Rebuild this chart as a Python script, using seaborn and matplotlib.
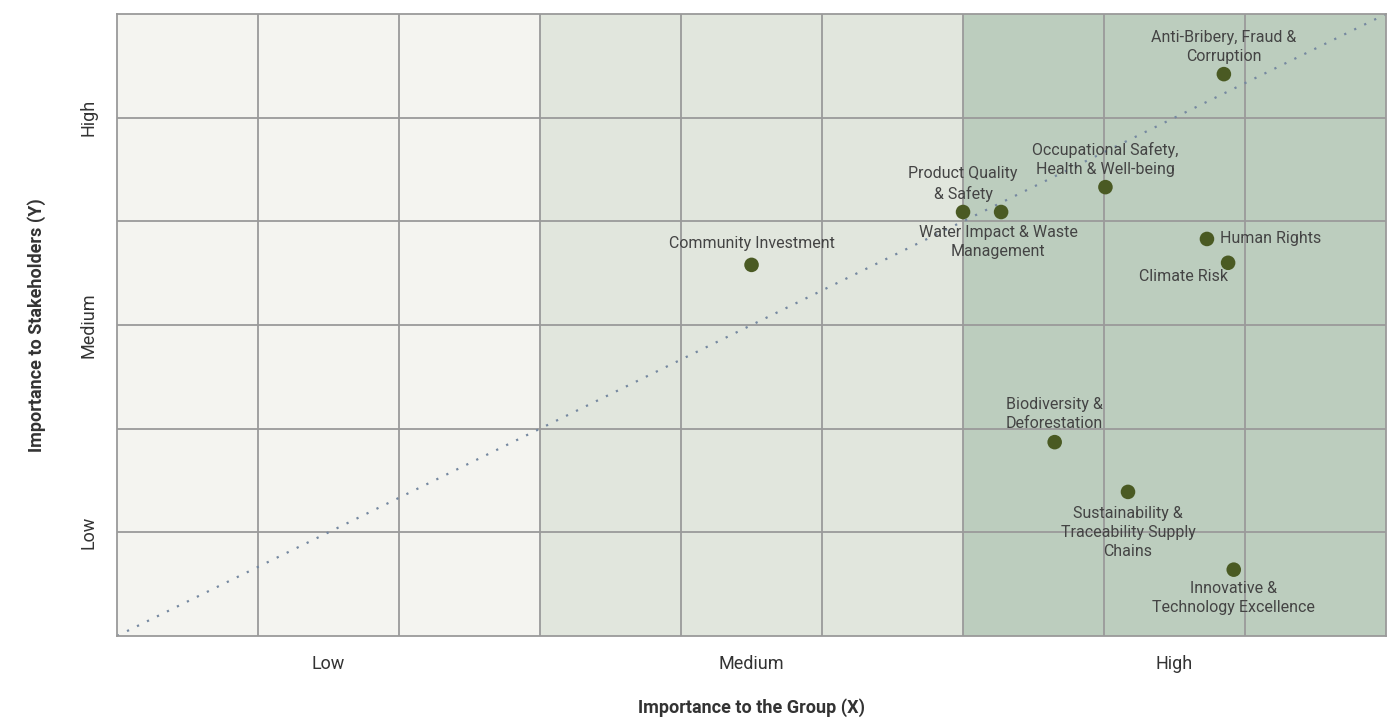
import matplotlib.pyplot as plt
import pandas as pd
import seaborn as sns

topics = ['Anti-Bribery, Fraud &\nCorruption', 'Occupational Safety,\nHealth & Well-being',
          'Product Quality\n& Safety', 'Water Impact & Waste\nManagement', 'Community Investment',
          'Human Rights', 'Climate Risk', 'Biodiversity &\nDeforestation',
          'Sustainability &\nTraceability Supply\nChains', 'Innovative &\nTechnology Excellence']
group_x = [7.85, 7.01, 6.0, 6.27, 4.50, 7.73, 7.88, 6.65, 7.17, 7.92]
stake_y = [5.42, 4.33, 4.09, 4.09, 3.58, 3.83, 3.60, 1.87, 1.39, 0.64]
x_ticklabels = ['Low', 'Medium', 'High']
y_ticklabels = ['Low', 'Medium', 'High']

df = pd.DataFrame({'topic': topics, 'x': group_x, 'y': stake_y})

# label placement: (dx, dy) in pixels, ha, va
label_pos = [(0, 10, 'center', 'bottom'), (0, 10, 'center', 'bottom'), (0, 10, 'center', 'bottom'),
             (-3, -13, 'center', 'top'), (0, 14, 'center', 'bottom'), (13, 0, 'left', 'center'),
             (0, -6, 'right', 'top'), (0, 11, 'center', 'bottom'), (0, -14, 'center', 'top'),
             (0, -11, 'center', 'top')]

sns.set_style('white')
plt.rcParams['font.family'] = ['Roboto', 'DejaVu Sans']

fig = plt.figure(figsize=(13.92, 7.18), dpi=100)
ax = fig.add_axes([0.0841, 0.1142, 0.9116, 0.8663])

for x0, x1, c in [(0, 3, '#f4f4f0'), (3, 6, '#e1e6dd'), (6, 9, '#bccdbe')]:
    ax.axvspan(x0, x1, color=c, zorder=0, lw=0)
for gx in range(1, 9):
    ax.axvline(gx, color='#9a9a9a', lw=1.3, zorder=1)
for gy in range(1, 6):
    ax.axhline(gy, color='#9a9a9a', lw=1.3, zorder=1)

ax.plot([0, 9], [0, 6], ls=(0, (1, 4)), color='#7588a0', lw=1.6, zorder=2)

sns.scatterplot(data=df, x='x', y='y', ax=ax, s=110, color='#4a5a23', edgecolor='none', zorder=3)

for (t, x, y), (dx, dy, ha, va) in zip(zip(topics, group_x, stake_y), label_pos):
    ax.annotate(t, (x, y), xytext=(dx, dy), textcoords='offset pixels', ha=ha, va=va,
                fontsize=11.5, color='#444444', linespacing=1.35, multialignment='center', zorder=4)

ax.set_xlim(0, 9)
ax.set_ylim(0, 6)
ax.set_xticks([1.5, 4.5, 7.5])
ax.set_xticklabels(x_ticklabels, fontsize=13, color='#333333')
ax.set_yticks([1, 3, 5])
ax.set_yticklabels(y_ticklabels, fontsize=13, color='#333333', rotation=90, va='center')
ax.tick_params(axis='x', length=0, pad=14)
ax.tick_params(axis='y', length=0, pad=14)
ax.set_xlabel('Importance to the Group (X)', fontsize=13, fontweight='bold', color='#333333', labelpad=18)
ax.set_ylabel('Importance to Stakeholders (Y)', fontsize=13, fontweight='bold', color='#333333', labelpad=24)
for s in ax.spines.values():
    s.set_color('#9a9a9a')
    s.set_linewidth(1.3)

fig.savefig('out.png', dpi=100)
